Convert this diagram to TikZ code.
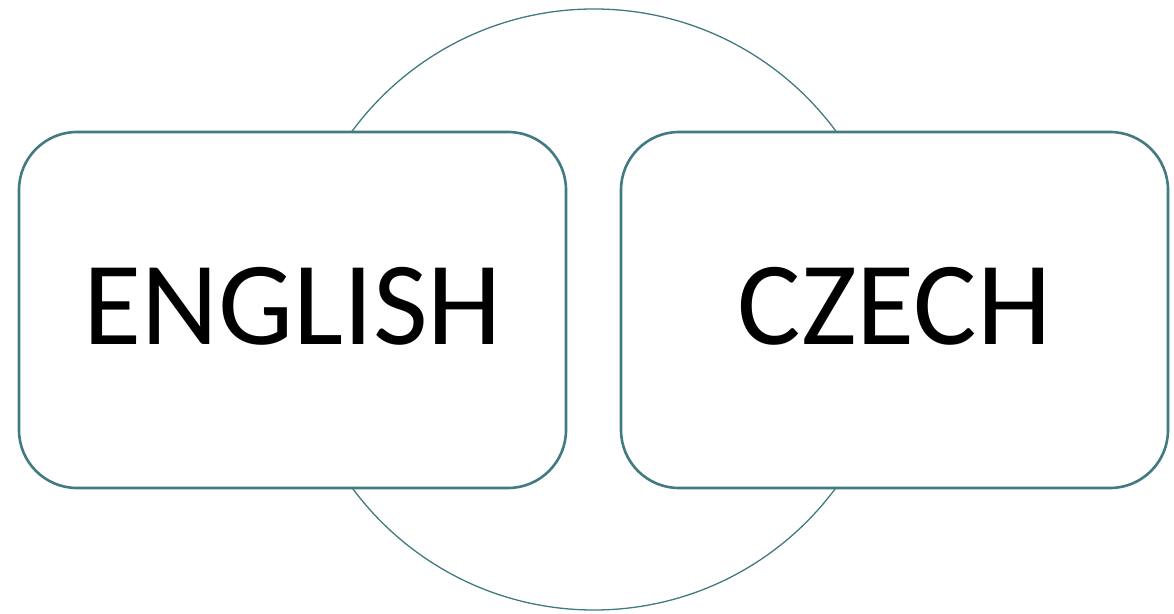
\documentclass[tikz,border=0pt]{standalone}
\usepackage{fontspec}
\setmainfont{Carlito}
\usepackage{tikz}
\usetikzlibrary{shapes.geometric, positioning}
\definecolor{langteal}{HTML}{417A80}
\tikzstyle{langbox} = [rectangle, rounded corners=58pt, minimum width=547pt, minimum height=356pt, text depth=9pt, text centered, draw=langteal, line width=2.6pt, fill=white, font=\fontsize{119}{119}\selectfont]
\tikzstyle{ring} = [circle, minimum size=601pt, inner sep=0pt, draw=langteal, line width=1.3pt]

\begin{document}
\begin{tikzpicture}[node distance=602pt]
		\useasboundingbox (0,0) rectangle (1174pt,613pt);
		\node (ringLink) [ring] at (594pt,303.5pt) {};
		
		\node (boxEnglish) [langbox] at (292.5pt,303pt) {ENGLISH};
		\node (boxCzech) [langbox, right of=boxEnglish] {CZECH};
	\end{tikzpicture}
\end{document}
